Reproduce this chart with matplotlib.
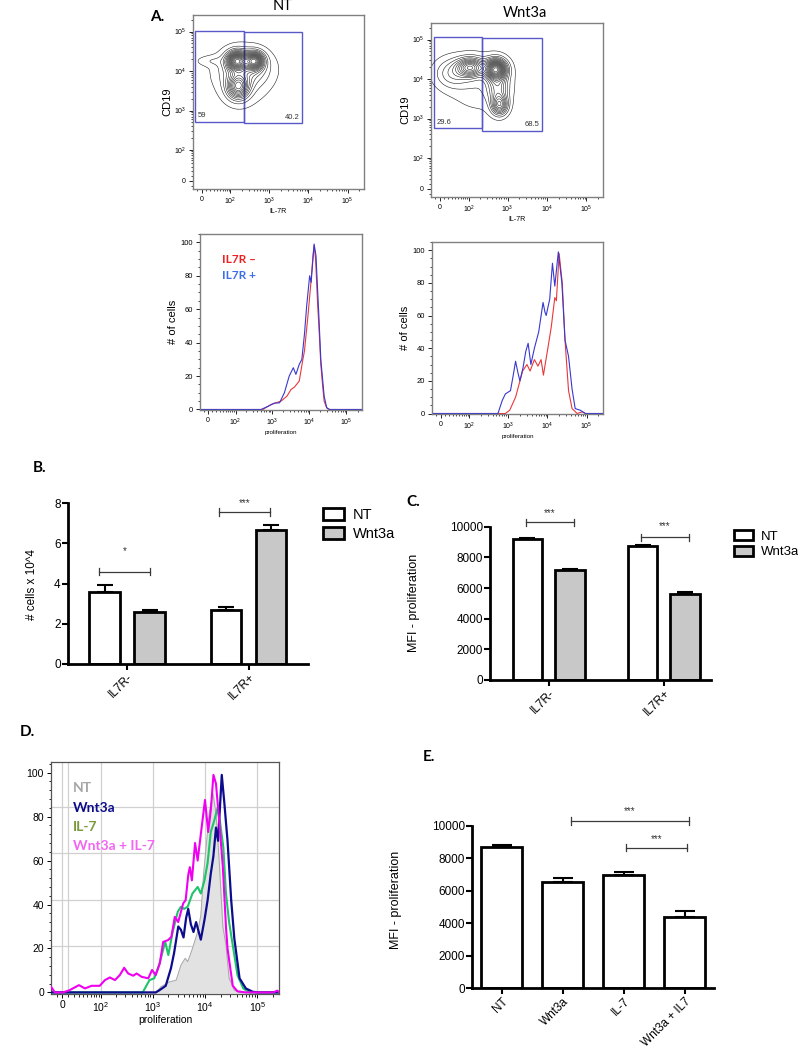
import numpy as np
import matplotlib
matplotlib.use('Agg')
import matplotlib.pyplot as plt
from matplotlib.patches import Rectangle, Patch
from matplotlib.ticker import MultipleLocator

W, H = 798, 1049
plt.rcParams['font.family'] = ['Liberation Sans', 'DejaVu Sans']
plt.rcParams['mathtext.fontset'] = 'custom'
plt.rcParams['mathtext.rm'] = 'Liberation Sans'
plt.rcParams['mathtext.it'] = 'Liberation Sans:italic'

# ---------------- data ----------------
# A: contour populations (IL-7R value, CD19 value, spread x/y in decades, weight)
nt_pop_x = [148, 420, 160, 250, 20, 200]
nt_pop_y = [18100, 18100, 4030, 12000, 18000, 6000]
nt_pop_sx = [0.16, 0.15, 0.18, 0.4, 0.25, 0.5]
nt_pop_sy = [0.15, 0.14, 0.2, 0.3, 0.09, 0.5]
nt_pop_w = [1.0, 0.95, 0.7, 0.28, 0.08, 0.1]

wnt_pop_x = [500, 112, 628, 30, 565, 200]
wnt_pop_y = [17700, 19600, 2210, 14000, 6270, 8460]
wnt_pop_sx = [0.17, 0.22, 0.13, 0.3, 0.17, 0.55]
wnt_pop_sy = [0.16, 0.15, 0.16, 0.25, 0.3, 0.5]
wnt_pop_w = [1.0, 0.65, 0.5, 0.2, 0.32, 0.1]

# gates: x0, x1, y0, y1, percent
nt_gates = [(-14, 234, 519, 105000, '59'), (234, 7000, 473, 100000, '40.2')]
wnt_gates = [(-13, 218, 562, 115000, '29.6'), (218, 7540, 480, 107000, '68.5')]

# A: proliferation histograms (log10 of intensity, % of max)
nt_neg_log = [2.75, 2.97, 3.1, 3.24, 3.4, 3.51, 3.6, 3.73, 3.82, 3.87, 3.96, 4.04, 4.1, 4.13,
              4.17, 4.22, 4.27, 4.31, 4.36, 4.4, 4.45, 4.49, 4.55]
nt_neg_y = [0, 3, 4, 5, 8, 12, 13.4, 17, 29, 35, 55, 75, 92, 98, 90, 65, 45, 27, 14, 5, 2, 0.5, 0]
nt_pos_log = [2.7, 2.9, 3.06, 3.2, 3.33, 3.46, 3.57, 3.64, 3.73, 3.8, 3.87, 3.93, 4.01, 4.05,
              4.13, 4.18, 4.26, 4.31, 4.4, 4.47, 4.55]
nt_pos_y = [0, 2, 3.8, 4, 10, 20, 25, 21, 27, 30, 45, 62, 80, 76, 99, 92, 55, 30, 8, 1, 0]

wnt_pos_log = [2.74, 2.85, 2.93, 3.06, 3.12, 3.19, 3.25, 3.3, 3.38, 3.45, 3.51, 3.58, 3.67, 3.78,
               3.89, 3.94, 3.97, 4.06, 4.13, 4.19, 4.28, 4.37, 4.45, 4.54, 4.63, 4.71, 4.84, 4.97]
wnt_pos_y = [0, 8, 12, 14, 22, 32, 25, 20, 28, 38, 43, 30, 40, 50, 68, 62, 60, 70, 92, 78, 99,
             80, 45, 35, 15, 3, 2, 0]
wnt_neg_log = [2.93, 3.04, 3.19, 3.28, 3.37, 3.48, 3.56, 3.67, 3.76, 3.84, 3.9, 4.02, 4.1, 4.19,
               4.23, 4.3, 4.38, 4.45, 4.54, 4.63, 4.76, 4.89, 4.97]
wnt_neg_y = [0, 2, 10, 18, 26, 30, 26, 33, 29, 33, 23.5, 41, 53, 71, 69, 98, 80, 45, 14, 3, 0, 1, 0]

# B: cell numbers (x10^4)
b_cats = ['IL7R-', 'IL7R+']
b_nt = [3.6, 2.7]
b_nt_err = [0.33, 0.13]
b_wnt = [2.58, 6.68]
b_wnt_err = [0.1, 0.24]

# C: MFI proliferation
c_cats = ['IL7R-', 'IL7R+']
c_nt = [9200, 8760]
c_nt_err = [40, 20]
c_wnt = [7190, 5620]
c_wnt_err = [40, 90]

# D: overlay histograms (intensity, % of max)
d_mag_x = [-20, -13, 1, 12, 30, 44, 63, 94, 120, 150, 189, 235, 285, 340, 425, 494, 616, 825,
           975, 1145, 1370, 1590, 1980, 2280, 2650, 3080, 3830, 4270, 4790, 5130, 5620, 6460,
           7240, 8320, 10000, 11500, 12900, 14500, 16200, 18600, 21900, 25100, 26900, 33900,
           41700, 60000, 200000, 240000, 262144]
d_mag_y = [2.6, 0, 0, 1, 3.3, 1.8, 3, 3, 5.6, 6.8, 5.6, 7.9, 11.2, 8.6, 7.6, 8.6, 7.1, 6.4,
           10.2, 7.9, 13.2, 23, 23.8, 25.3, 34.4, 32, 40.5, 42, 53.5, 57, 51, 68, 60, 72, 87.6,
           73, 83, 99, 95, 78.5, 57, 30, 20, 3, 0.5, 0, 0, 0.8, 0]
d_wnt_log = [3.06, 3.13, 3.25, 3.35, 3.41, 3.49, 3.54, 3.59, 3.64, 3.68, 3.73, 3.78, 3.83, 3.92,
             3.99, 4.05, 4.11, 4.16, 4.21, 4.25, 4.32, 4.37, 4.43, 4.5, 4.56, 4.66, 4.78, 4.91, 5.0]
d_wnt_y = [0, 1, 3, 11, 18, 30, 28.5, 25, 34, 38, 31, 27.5, 32, 24, 33, 42, 54, 62, 75, 69, 99,
           86, 69, 42, 24.5, 6.4, 1.8, 0.3, 0]
d_il7_log = [2.81, 2.94, 3.03, 3.13, 3.24, 3.3, 3.38, 3.48, 3.54, 3.6, 3.67, 3.76, 3.86, 3.92,
             3.99, 4.05, 4.11, 4.18, 4.24, 4.29, 4.35, 4.4, 4.46, 4.53, 4.62, 4.73, 4.85]
d_il7_y = [0, 5.6, 6.4, 13, 23, 17, 27.3, 36.7, 39, 38, 39, 45, 48, 45, 51, 59, 73, 78.5, 84, 77,
           66, 45, 32, 21.5, 7.9, 1.8, 0]
d_nt_log = [3.06, 3.16, 3.32, 3.45, 3.54, 3.62, 3.67, 3.76, 3.86, 3.92, 3.97, 4.02, 4.08, 4.15,
            4.21, 4.27, 4.34, 4.4, 4.46, 4.56, 4.65]
d_nt_y = [0, 2.6, 4.8, 5.6, 12.4, 15.5, 14, 20, 27.6, 35, 53, 66, 81.5, 90.6, 81.5, 60, 30,
          21.5, 6.4, 1, 0]

# E: MFI proliferation
e_cats = ['NT', 'Wnt3a', 'IL-7', 'Wnt3a + IL7']
e_vals = [8700, 6530, 6960, 4390]
e_err = [100, 280, 200, 370]

# ---------------- helpers ----------------
fig = plt.figure(figsize=(W / 100, H / 100), dpi=100)
LW_X, LW_Y = 38, 33
XMIN, XMAX = -20, 262144
BIEX_TICKS = [0, 1e2, 1e3, 1e4, 1e5]
BIEX_LABELS = ['0', '$10^2$', '$10^3$', '$10^4$', '$10^5$']
BIEX_MINOR = [-10, 10] + [m * 10 ** k for k in range(1, 5) for m in range(2, 10)] + [2e5]
LATO = ['Lato', 'DejaVu Sans']


def px_axes(x0, y0, x1, y1):
    return fig.add_axes([x0 / W, 1 - y1 / H, (x1 - x0) / W, (y1 - y0) / H])


def biex(ax, axis, lw, lo, fs=5):
    if axis == 'x':
        ax.set_xscale('asinh', linear_width=lw)
        ax.set_xlim(lo, XMAX)
        ax.set_xticks(BIEX_TICKS, BIEX_LABELS, fontsize=fs)
        ax.set_xticks(BIEX_MINOR, minor=True)
    else:
        ax.set_yscale('asinh', linear_width=lw)
        ax.set_ylim(lo, XMAX)
        ax.set_yticks(BIEX_TICKS, BIEX_LABELS, fontsize=fs)
        ax.set_yticks(BIEX_MINOR, minor=True)


def flow_frame(ax):
    for s in ax.spines.values():
        s.set_color('#808080')
        s.set_linewidth(1.0)
    ax.tick_params(which='major', length=3, width=0.6, pad=2)
    ax.tick_params(which='minor', length=1.5, width=0.5)


def u(v, a):
    return np.arcsinh(np.asarray(v, dtype=float) / a) / np.log(10)


def contour_panel(ax, px, py, sx, sy, w, gates):
    gu = np.linspace(u(XMIN, LW_X), u(XMAX, LW_X), 400)
    gv = np.linspace(u(-16, LW_Y), u(XMAX, LW_Y), 400)
    GU, GV = np.meshgrid(gu, gv)
    Z = np.zeros_like(GU)
    for i in range(len(px)):
        Z += w[i] * np.exp(-0.5 * (((GU - u(px[i], LW_X)) / sx[i]) ** 2
                                   + ((GV - u(py[i], LW_Y)) / sy[i]) ** 2))
    X = LW_X * np.sinh(GU * np.log(10))
    Y = LW_Y * np.sinh(GV * np.log(10))
    levels = Z.max() * np.linspace(0.035, 0.96, 18)
    ax.contour(X, Y, Z, levels=levels, colors='#202020', linewidths=0.4)
    biex(ax, 'x', LW_X, XMIN)
    biex(ax, 'y', LW_Y, -16)
    flow_frame(ax)
    for j, (x0, x1, y0, y1, pct) in enumerate(gates):
        ax.add_patch(Rectangle((x0, y0), x1 - x0, y1 - y0, fill=False,
                               edgecolor='#5858c8', lw=1.0))
        if j == 0:
            ax.annotate(pct, (x0, y0), xytext=(2, 2), textcoords='offset points',
                        fontsize=5.5, ha='left', va='bottom', color='#333333')
        else:
            ax.annotate(pct, (x1, y0), xytext=(-2, 2), textcoords='offset points',
                        fontsize=5.5, ha='right', va='bottom', color='#333333')
    ax.set_ylabel('CD19', fontsize=8, labelpad=1)
    ax.set_xlabel('IL-7R', fontsize=5, labelpad=0.5)


def curve(logs, ys):
    return (np.concatenate([[XMIN], 10 ** np.array(logs), [XMAX]]),
            np.concatenate([[0], ys, [0]]))


def hist_panel(ax, neg, pos):
    ax.plot(*curve(*neg), color='#e8383a', lw=0.8)
    ax.plot(*curve(*pos), color='#3838d0', lw=0.8)
    biex(ax, 'x', LW_X, XMIN)
    ax.set_ylim(-0.3, 105)
    ax.set_yticks([0, 20, 40, 60, 80, 100])
    ax.yaxis.set_minor_locator(MultipleLocator(5))
    ax.tick_params(axis='y', labelsize=5.5)
    flow_frame(ax)
    ax.set_ylabel('# of cells', fontsize=8, labelpad=2)
    ax.set_xlabel('proliferation', fontsize=4.5, labelpad=1)


def bar_frame(ax):
    for s in ['top', 'right']:
        ax.spines[s].set_visible(False)
    for s in ['left', 'bottom']:
        ax.spines[s].set_linewidth(2)
    ax.tick_params(width=1.5, length=4, labelsize=8.5, pad=1)


def bracket(ax, x1, x2, y, h, ty, text):
    ax.plot([x1, x2], [y, y], color='#3a3a3a', lw=0.9, clip_on=False)
    ax.plot([x1, x1], [y - h, y + h], color='#3a3a3a', lw=0.9, clip_on=False)
    ax.plot([x2, x2], [y - h, y + h], color='#3a3a3a', lw=0.9, clip_on=False)
    ax.text((x1 + x2) / 2, ty, text, ha='center', va='center', fontsize=7, color='#333333')


def group_bars(ax, nt, nt_err, wnt, wnt_err, cats, width):
    xs = np.arange(len(cats))
    ax.bar(xs - 0.185, nt, width, color='white', edgecolor='k', lw=2, zorder=2)
    ax.bar(xs + 0.185, wnt, width, color='#c8c8c8', edgecolor='k', lw=2, zorder=2)
    ax.errorbar(xs - 0.185, nt, yerr=[np.zeros(len(nt)), nt_err], fmt='none', ecolor='k',
                elinewidth=1.5, capsize=6, capthick=1.5, zorder=3)
    ax.errorbar(xs + 0.185, wnt, yerr=[np.zeros(len(wnt)), wnt_err], fmt='none', ecolor='k',
                elinewidth=1.5, capsize=6, capthick=1.5, zorder=3)
    ax.set_xticks(xs, cats, rotation=45, ha='right', rotation_mode='anchor')


def group_legend(x, y, fs, spacing):
    fig.legend(handles=[Patch(facecolor='white', edgecolor='k', lw=2, label='NT'),
                        Patch(facecolor='#c8c8c8', edgecolor='k', lw=2, label='Wnt3a')],
               loc='upper left', bbox_to_anchor=(x / W, 1 - y / H), frameon=False, fontsize=fs,
               handlelength=1.45, handleheight=0.82, handletextpad=0.6, labelspacing=spacing,
               borderpad=0, borderaxespad=0)


def panel_letter(x, y, s):
    fig.text(x / W, 1 - y / H, s, fontsize=11, fontweight='bold', family=LATO,
             ha='left', va='center')


# ---------------- panel A ----------------
panel_letter(150, 17, 'A.')
ax = px_axes(193, 15, 364, 189)
contour_panel(ax, nt_pop_x, nt_pop_y, nt_pop_sx, nt_pop_sy, nt_pop_w, nt_gates)
fig.text(283 / W, 1 - 6 / H, 'NT', fontsize=10.5, family=LATO, ha='center', va='center')

ax = px_axes(431, 23, 603, 197)
contour_panel(ax, wnt_pop_x, wnt_pop_y, wnt_pop_sx, wnt_pop_sy, wnt_pop_w, wnt_gates)
fig.text(525 / W, 1 - 13 / H, 'Wnt3a', fontsize=10.5, family=LATO, ha='center', va='center')

ax = px_axes(200, 234, 362, 410)
hist_panel(ax, (nt_neg_log, nt_neg_y), (nt_pos_log, nt_pos_y))
ax.text(0.135, 0.855, 'IL7R –', transform=ax.transAxes, color='#ee2020', fontsize=8.5,
        fontweight='bold', family=LATO, va='center')
ax.text(0.135, 0.765, 'IL7R +', transform=ax.transAxes, color='#3c6ee8', fontsize=8.5,
        fontweight='bold', family=LATO, va='center')

ax = px_axes(432, 242, 603, 414)
hist_panel(ax, (wnt_neg_log, wnt_neg_y), (wnt_pos_log, wnt_pos_y))

# ---------------- panel B ----------------
panel_letter(33, 468, 'B.')
ax = px_axes(67.7, 503.3, 308, 664)
group_bars(ax, b_nt, b_nt_err, b_wnt, b_wnt_err, b_cats, 0.253)
ax.set_xlim(-0.49, 1.49)
ax.set_ylim(0, 8)
ax.set_yticks([0, 2, 4, 6, 8])
bar_frame(ax)
bracket(ax, -0.23, 0.19, 4.6, 0.18, 5.6, '*')
bracket(ax, 0.76, 1.18, 7.57, 0.18, 8.0, '***')
fig.text(32 / W, 1 - 584 / H, '# cells x 10^4', rotation=90, fontsize=8.5, ha='center', va='center')
group_legend(323, 508, 10.5, 0.35)

# ---------------- panel C ----------------
panel_letter(406, 502, 'C.')
ax = px_axes(490, 526.7, 711, 680)
group_bars(ax, c_nt, c_nt_err, c_wnt, c_wnt_err, c_cats, 0.256)
ax.set_xlim(-0.51, 1.41)
ax.set_ylim(0, 10000)
ax.set_yticks(range(0, 10001, 2000))
bar_frame(ax)
bracket(ax, -0.2, 0.22, 10300, 230, 10900, '***')
bracket(ax, 0.8, 1.22, 9310, 230, 10060, '***')
fig.text(414 / W, 1 - 603 / H, 'MFI - proliferation', rotation=90, fontsize=9,
         ha='center', va='center')
group_legend(734, 530, 9.5, 0.22)

# ---------------- panel D ----------------
panel_letter(20, 732, 'D.')
ax = px_axes(51, 761.7, 279.3, 993.5)
for gx in [0, 10, 100, 1000, 10000, 100000]:
    ax.axvline(gx, color='#d0d0d0', lw=0.9, zorder=0)
for gy in [21.1, 42.2, 63.3, 84.4]:
    ax.axhline(gy, color='#d0d0d0', lw=0.9, zorder=0)
nx, ny = curve(d_nt_log, d_nt_y)
ax.fill_between(nx, ny, color='#e2e2e2', zorder=1)
ax.plot(nx, ny, color='#a8a8a8', lw=0.7, zorder=2)
ax.plot(*curve(d_il7_log, d_il7_y), color='#1fc46a', lw=1.5, zorder=3)
ax.plot(*curve(d_wnt_log, d_wnt_y), color='#0c0c8c', lw=1.6, zorder=4)
ax.plot(d_mag_x, d_mag_y, color='#f000f0', lw=1.5, zorder=5)
biex(ax, 'x', LW_X, XMIN, fs=7.5)
ax.set_ylim(-0.5, 105)
ax.set_yticks([0, 20, 40, 60, 80, 100])
ax.yaxis.set_minor_locator(MultipleLocator(4))
ax.tick_params(axis='y', labelsize=7.5)
ax.tick_params(which='major', length=3, width=0.7, pad=2)
ax.tick_params(which='minor', length=1.8, width=0.6)
for s in ax.spines.values():
    s.set_color('#555555')
    s.set_linewidth(0.9)
ax.set_xlabel('proliferation', fontsize=7.5, labelpad=0.5)
for i, (txt, col) in enumerate([('NT', '#a6a6a6'), ('Wnt3a', '#0c0c8c'), ('IL-7', '#7a9a3c'),
                                ('Wnt3a + IL-7', '#f266f2')]):
    ax.text(0.098, 0.885 - i * 0.083, txt, transform=ax.transAxes, color=col, fontsize=10,
            fontweight='bold', family=LATO, va='center')

# ---------------- panel E ----------------
panel_letter(423, 757, 'E.')
ax = px_axes(471.7, 826, 714, 988.3)
xs = np.arange(len(e_cats))
ax.bar(xs, e_vals, 0.67, color='white', edgecolor='k', lw=2, zorder=2)
ax.errorbar(xs, e_vals, yerr=[np.zeros(len(e_vals)), e_err], fmt='none', ecolor='k',
            elinewidth=1.5, capsize=7.5, capthick=1.5, zorder=3)
ax.set_xticks(xs, e_cats, rotation=45, ha='right', rotation_mode='anchor')
ax.set_xlim(-0.49, 3.48)
ax.set_ylim(0, 10000)
ax.set_yticks(range(0, 10001, 2000))
bar_frame(ax)
bracket(ax, 1.14, 3.07, 10306, 230, 10900, '***')
bracket(ax, 2.04, 3.04, 8663, 230, 9200, '***')
fig.text(396 / W, 1 - 900 / H, 'MFI - proliferation', rotation=90, fontsize=9,
         ha='center', va='center')

fig.savefig('out.png', dpi=100)
